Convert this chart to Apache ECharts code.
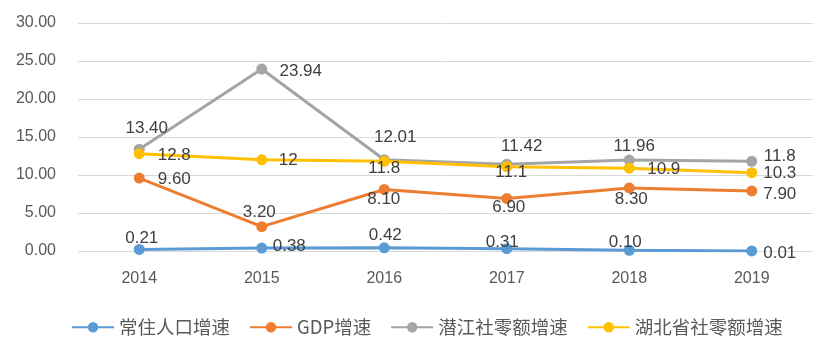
<!DOCTYPE html>
<html><head><meta charset="utf-8">
<script src="https://cdn.jsdelivr.net/npm/echarts@6/dist/echarts.min.js"></script>
<style>html,body{margin:0;padding:0;background:#fff}#c{width:836px;height:348px}</style>
</head><body><div id="c"></div>
<script>
var categories = ['2014','2015','2016','2017','2018','2019'];
var seriesNames = ['常住人口增速','GDP增速','潜江社零额增速','湖北省社零额增速'];
var popValues = [0.21, 0.38, 0.42, 0.31, 0.10, 0.01];
var popLabels = ['0.21','0.38','0.42','0.31','0.10','0.01'];
var gdpValues = [9.60, 3.20, 8.10, 6.90, 8.30, 7.90];
var gdpLabels = ['9.60','3.20','8.10','6.90','8.30','7.90'];
var qjValues = [13.40, 23.94, 12.01, 11.42, 11.96, 11.8];
var qjLabels = ['13.40','23.94','12.01','11.42','11.96','11.8'];
var hbValues = [12.8, 12, 11.8, 11.1, 10.9, 10.3];
var hbLabels = ['12.8','12','11.8','11.1','10.9','10.3'];
var yTicks = {min: 0, max: 30, interval: 5};

// label placement (pixel offsets of label centre from its point), style only
var labelOffsets = [
  [[2.5,-11],[27.5,-2],[1,-12],[-4.5,-6],[-4,-8],[28,2]],
  [[35,1],[-2.5,-14],[-0.5,10],[2,9],[2,11],[28,3]],
  [[7.5,-21],[39,2],[11,-22],[15,-18],[5,-14],[28,-5]],
  [[35,2],[26.5,1],[0,7],[4.5,6],[34.5,1],[28,1]]
];
var colors = ['#5B9BD5','#ED7D31','#A5A5A5','#FFC000'];
var allValues = [popValues, gdpValues, qjValues, hbValues];
var allLabels = [popLabels, gdpLabels, qjLabels, hbLabels];
var font = 'Liberation Sans, Noto Sans CJK SC, sans-serif';

var series = seriesNames.map(function(name, s){
  return {
    name: name, type: 'line', symbol: 'circle', symbolSize: 11,
    lineStyle: {width: 3, color: colors[s]},
    itemStyle: {color: colors[s]},
    z: [4,3,1,2][s],
    data: allValues[s].map(function(v, i){
      return {value: v, label: {show: true, position: 'inside', align: 'center', verticalAlign: 'middle',
        offset: labelOffsets[s][i], formatter: allLabels[s][i],
        color: '#404040', fontSize: 17, fontFamily: font}};
    })
  };
});

var chart = echarts.init(document.getElementById('c'));
chart.setOption({
  animation: false,
  color: colors,
  grid: {left: 78, right: 23, top: 23, bottom: 97},
  legend: {
    data: seriesNames, top: 313, left: 66, itemWidth: 42, itemHeight: 13, itemGap: 19,
    textStyle: {color: '#595959', fontSize: 18.5, fontFamily: 'Noto Sans CJK SC, sans-serif'}
  },
  xAxis: {
    type: 'category', data: categories, boundaryGap: true,
    axisLine: {show: false}, axisTick: {show: false},
    axisLabel: {color: '#595959', fontSize: 16, fontFamily: font, margin: 20}
  },
  yAxis: {
    type: 'value', min: yTicks.min, max: yTicks.max, interval: yTicks.interval,
    axisLine: {show: false}, axisTick: {show: false},
    splitLine: {lineStyle: {color: '#D9D9D9', width: 1}},
    axisLabel: {color: '#595959', fontSize: 16, fontFamily: font, margin: 22,
      formatter: function(v){ return v.toFixed(2); }}
  },
  series: series
});
</script></body></html>
